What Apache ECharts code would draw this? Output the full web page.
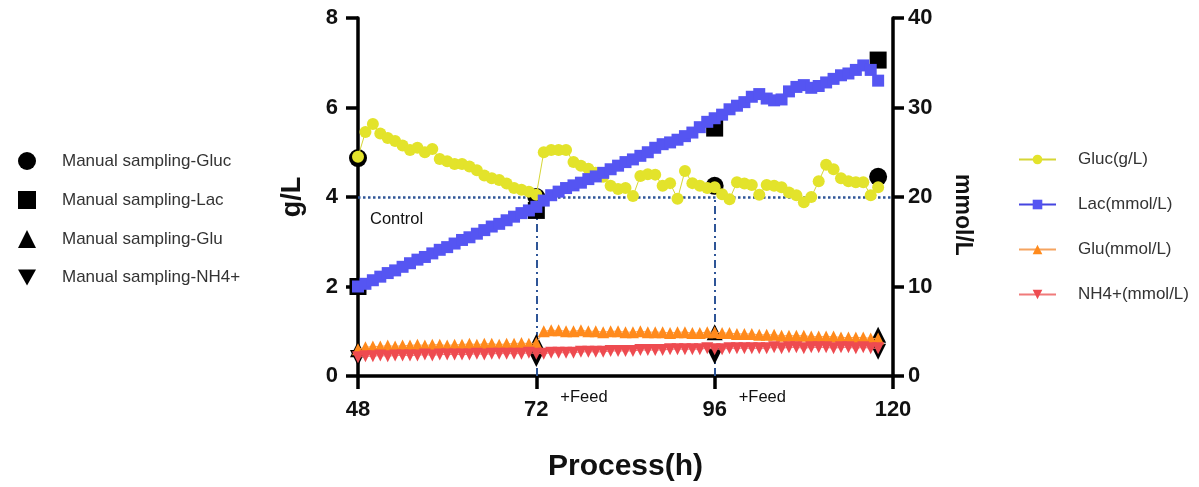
<!DOCTYPE html>
<html><head><meta charset="utf-8">
<script src="https://cdn.jsdelivr.net/npm/echarts@6/dist/echarts.min.js"></script>
<style>html,body{margin:0;padding:0;background:#fff}#c{width:1199px;height:487px}</style>
</head><body><div id="c"></div>
<script>
// ---- data ----
const hours = [48,49,50,51,52,53,54,55,56,57,58,59,60,61,62,63,64,65,66,67,68,69,70,71,72,
  73,74,75,76,77,78,79,80,81,82,83,84,85,86,87,88,89,90,91,92,93,94,95,96,
  97,98,99,100,101,102,103,104,105,106,107,108,109,110,111,112,113,114,115,116,117,118];
const glucOnline = [4.9,5.45,5.63,5.42,5.32,5.25,5.15,5.05,5.1,5.0,5.07,4.85,4.8,4.74,4.74,4.68,4.6,4.48,4.42,4.38,4.3,4.2,4.16,4.12,4.05,
  5.0,5.05,5.05,5.05,4.78,4.7,4.63,4.54,4.45,4.25,4.18,4.2,4.02,4.47,4.51,4.5,4.25,4.31,3.96,4.58,4.31,4.25,4.2,4.22,
  4.06,3.95,4.33,4.3,4.27,4.05,4.27,4.25,4.22,4.1,4.04,3.88,4.0,4.35,4.72,4.62,4.42,4.35,4.33,4.33,4.04,4.22];
const lacOnline = [10.0,10.3,10.7,11.1,11.5,11.8,12.2,12.6,13.0,13.3,13.7,14.1,14.4,14.8,15.2,15.5,15.9,16.3,16.7,17.0,17.4,17.8,18.2,18.5,18.9,
  19.6,20.2,20.6,21.0,21.3,21.6,22.0,22.3,22.7,23.1,23.5,23.9,24.2,24.6,25.0,25.5,25.9,26.1,26.4,26.8,27.2,27.8,28.4,28.8,
  29.2,29.8,30.2,30.6,31.2,31.5,31.0,30.8,30.9,31.8,32.3,32.5,32.2,32.4,32.8,33.2,33.6,33.8,34.2,34.7,34.2,33.0];
const gluOnline = [3.0,3.2,3.3,3.3,3.4,3.3,3.4,3.4,3.5,3.4,3.5,3.5,3.4,3.5,3.5,3.6,3.5,3.6,3.6,3.5,3.6,3.6,3.7,3.6,3.7,
  5.0,5.1,5.1,5.0,5.0,5.1,5.0,5.0,4.9,5.0,5.0,4.9,4.9,5.0,4.9,4.9,4.9,4.8,4.9,4.9,4.8,4.8,4.9,4.9,
  4.8,4.8,4.7,4.7,4.7,4.6,4.6,4.6,4.5,4.5,4.5,4.5,4.4,4.4,4.4,4.4,4.3,4.3,4.3,4.3,4.2,4.2];
const nh4Online = [2.1,2.2,2.2,2.3,2.2,2.3,2.3,2.3,2.3,2.4,2.3,2.4,2.4,2.4,2.4,2.4,2.5,2.4,2.5,2.5,2.5,2.5,2.5,2.6,2.5,
  2.5,2.6,2.6,2.6,2.6,2.7,2.7,2.7,2.7,2.8,2.8,2.8,2.8,2.9,2.9,2.9,2.9,3.0,3.0,3.0,3.0,3.0,3.1,3.0,
  3.0,3.1,3.1,3.1,3.1,3.1,3.1,3.2,3.1,3.2,3.2,3.1,3.2,3.2,3.2,3.1,3.2,3.2,3.1,3.2,3.1,3.1];
const manualHours = [48,72,96,118];
const manualGluc = [4.87,4.0,4.25,4.45];
const manualLac = [10.0,18.5,27.7,35.3];
const manualGlu = [3.0,3.8,4.9,4.6];
const manualNH4 = [2.0,1.9,2.2,2.7];
const controlLevel = 4;
const feedHours = [72,96];
const xTicks = [48,72,96,120];
const leftTicks = [0,2,4,6,8];
const rightTicks = [0,10,20,30,40];

const zip = (xs, ys) => xs.map((x,i) => [x, ys[i]]);
const INV_TRI = 'path://M0,0 L10,0 L5,9 Z';
const FONT = 'Liberation Sans, Arial, sans-serif';
const axisLabelStyle = {fontSize: 22, fontWeight: 'bold', color: '#111', fontFamily: FONT};

const chart = echarts.init(document.getElementById('c'), null, {renderer: 'canvas'});
const option = {
  animation: false,
  backgroundColor: '#fff',
  grid: {left: 358, right: 306, top: 18, bottom: 111},
  legend: [
    {
      orient: 'vertical', left: 13, top: 147, itemWidth: 18, itemHeight: 18, itemGap: 21,
      textStyle: {fontSize: 17, color: '#333', fontFamily: FONT, padding: [0,0,0,21]},
      data: ['Manual sampling-Gluc','Manual sampling-Lac','Manual sampling-Glu','Manual sampling-NH4+']
    },
    {
      orient: 'vertical', left: 1013, top: 146, itemWidth: 37, itemHeight: 12, itemGap: 28,
      textStyle: {fontSize: 17, color: '#333', fontFamily: FONT, padding: [0,0,0,17]},
      data: ['Gluc(g/L)','Lac(mmol/L)','Glu(mmol/L)','NH4+(mmol/L)']
    }
  ],
  xAxis: {
    type: 'value', min: xTicks[0], max: xTicks[xTicks.length-1], interval: 24,
    name: 'Process(h)', nameLocation: 'middle', nameGap: 76,
    nameTextStyle: {fontSize: 30, fontWeight: 'bold', color: '#111', fontFamily: FONT},
    axisLine: {show: true, lineStyle: {color: '#000', width: 3.5}},
    axisTick: {show: true, length: 13, lineStyle: {color: '#000', width: 3.5}},
    axisLabel: Object.assign({margin: 23}, axisLabelStyle),
    splitLine: {show: false}
  },
  yAxis: [
    {
      type: 'value', min: leftTicks[0], max: leftTicks[leftTicks.length-1], interval: 2, position: 'left',
      name: 'g/L', nameLocation: 'middle', nameGap: 52, nameRotate: 90,
      nameTextStyle: {fontSize: 27, fontWeight: 'bold', color: '#111', fontFamily: FONT},
      axisLine: {show: true, lineStyle: {color: '#000', width: 3.5}},
      axisTick: {show: true, length: 12, lineStyle: {color: '#000', width: 3.5}},
      axisLabel: Object.assign({margin: 20}, axisLabelStyle),
      splitLine: {show: false}
    },
    {
      type: 'value', min: rightTicks[0], max: rightTicks[rightTicks.length-1], interval: 10, position: 'right',
      name: 'mmol/L', nameLocation: 'middle', nameGap: 58, nameRotate: -90,
      nameTextStyle: {fontSize: 23, fontWeight: 'bold', color: '#111', fontFamily: FONT, padding: [0,0,0,36]},
      axisLine: {show: true, lineStyle: {color: '#000', width: 3.5}},
      axisTick: {show: true, length: 11, lineStyle: {color: '#000', width: 3.5}},
      axisLabel: Object.assign({margin: 15}, axisLabelStyle),
      splitLine: {show: false}
    }
  ],
  series: [
    {name: 'Manual sampling-Gluc', type: 'scatter', yAxisIndex: 0, symbol: 'circle', symbolSize: 18,
     itemStyle: {color: '#000', opacity: 1}, z: 2, data: zip(manualHours, manualGluc)},
    {name: 'Manual sampling-Lac', type: 'scatter', yAxisIndex: 1, symbol: 'rect', symbolSize: 17,
     itemStyle: {color: '#000', opacity: 1}, z: 2, data: zip(manualHours, manualLac)},
    {name: 'Manual sampling-Glu', type: 'scatter', yAxisIndex: 1, symbol: 'triangle', symbolSize: 16,
     itemStyle: {color: '#000', opacity: 1}, z: 2, data: zip(manualHours, manualGlu)},
    {name: 'Manual sampling-NH4+', type: 'scatter', yAxisIndex: 1, symbol: INV_TRI, symbolSize: 16,
     itemStyle: {color: '#000', opacity: 1}, z: 2, data: zip(manualHours, manualNH4)},
    {name: 'Gluc(g/L)', type: 'line', yAxisIndex: 0, symbol: 'circle', symbolSize: 12, showAllSymbol: true,
     itemStyle: {color: '#E3E32B'}, lineStyle: {color: '#D6D636', width: 1}, z: 5,
     data: zip(hours, glucOnline),
     markLine: {
       silent: true, symbol: 'none', label: {show: false}, z: 1,
       data: [
         {yAxis: controlLevel, lineStyle: {color: '#2E5597', type: 'dotted', width: 2.5}},
         [{coord: [feedHours[0], 0]}, {coord: [feedHours[0], controlLevel], lineStyle: {color: '#2E5597', type: [8,4,2,4], width: 2}}],
         [{coord: [feedHours[1], 0]}, {coord: [feedHours[1], controlLevel], lineStyle: {color: '#2E5597', type: [8,4,2,4], width: 2}}]
       ]
     }},
    {name: 'Lac(mmol/L)', type: 'line', yAxisIndex: 1, symbol: 'rect', symbolSize: 12, showAllSymbol: true,
     itemStyle: {color: '#5555F2'}, lineStyle: {color: '#4545E0', width: 1}, z: 5,
     data: zip(hours, lacOnline)},
    {name: 'Glu(mmol/L)', type: 'line', yAxisIndex: 1, symbol: 'triangle', symbolSize: 12, showAllSymbol: true,
     itemStyle: {color: '#FF8A1C'}, lineStyle: {color: '#F5A460', width: 1}, z: 4,
     data: zip(hours, gluOnline)},
    {name: 'NH4+(mmol/L)', type: 'line', yAxisIndex: 1, symbol: INV_TRI, symbolSize: 12, showAllSymbol: true,
     itemStyle: {color: '#EE4B50'}, lineStyle: {color: '#F07A7A', width: 1}, z: 4,
     data: zip(hours, nh4Online)}
  ]
};
chart.setOption(option);

const pCtrl = chart.convertToPixel({xAxisIndex: 0, yAxisIndex: 0}, [hours[0], controlLevel]);
const texts = [{style: {text: 'Control', x: pCtrl[0] + 12, y: pCtrl[1] + 22}}];
feedHours.forEach(h => {
  const p = chart.convertToPixel({xAxisIndex: 0, yAxisIndex: 0}, [h, 0]);
  texts.push({style: {text: '+Feed', x: p[0] + 24, y: p[1] + 21}});
});
chart.setOption({
  graphic: texts.map(t => ({
    type: 'text', z: 10,
    style: Object.assign({fill: '#111', font: '16.5px ' + FONT, textVerticalAlign: 'middle', verticalAlign: 'middle'}, t.style)
  }))
});
</script>
</body></html>
